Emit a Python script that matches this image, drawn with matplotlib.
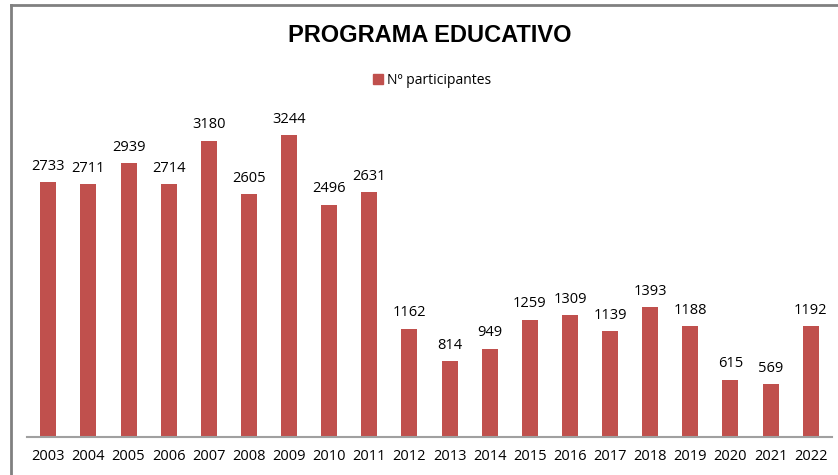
import matplotlib.pyplot as plt
from matplotlib.lines import Line2D
from matplotlib.patches import Patch

years = ['2003', '2004', '2005', '2006', '2007', '2008', '2009', '2010', '2011', '2012',
         '2013', '2014', '2015', '2016', '2017', '2018', '2019', '2020', '2021', '2022']
participantes = [2733, 2711, 2939, 2714, 3180, 2605, 3244, 2496, 2631, 1162,
                 814, 949, 1259, 1309, 1139, 1393, 1188, 615, 569, 1192]

plt.rcParams['font.family'] = ['Open Sans', 'DejaVu Sans']

W, H = 838, 475
fig = plt.figure(figsize=(W / 100, H / 100), dpi=100)
ax = fig.add_axes([27 / W, (H - 437) / H, (832 - 27) / W, (437 - 111) / H])

bar_color = '#C0504D'
x = range(len(years))
bars = ax.bar(x, participantes, width=0.4, color=bar_color)

for b, v in zip(bars, participantes):
    ax.annotate(str(v), (b.get_x() + b.get_width() / 2, v), xytext=(0, 6),
                textcoords='offset points', ha='center', va='bottom', fontsize=10.5)

ax.set_xlim(-0.53, len(years) - 0.47)
ax.set_ylim(0, 3500)
ax.set_xticks(list(x))
ax.set_xticklabels(years, fontsize=10.5)
ax.tick_params(axis='x', length=0, pad=9)
ax.set_yticks([])
for s in ['top', 'right', 'left']:
    ax.spines[s].set_visible(False)
ax.spines['bottom'].set_color('#A0A0A0')
ax.spines['bottom'].set_linewidth(1.5)

fig.text(430 / W, 1 - 35 / H, 'PROGRAMA EDUCATIVO', ha='center', va='center',
         fontsize=17, fontweight='bold', family=['Liberation Sans', 'DejaVu Sans'])

fig.legend(handles=[Patch(color=bar_color, label='Nº participantes')],
           loc='center', bbox_to_anchor=(432 / W, 1 - 80 / H), frameon=False,
           fontsize=10, handlelength=0.7, handleheight=0.7, handletextpad=0.3)

# grey frame of the original chart area
fig.add_artist(Line2D([11 / W, 1], [1 - 5 / H, 1 - 5 / H], color='#808080', lw=2))
fig.add_artist(Line2D([11 / W, 11 / W], [0, 1 - 5 / H], color='#808080', lw=2))

fig.savefig('out.png', dpi=100)
